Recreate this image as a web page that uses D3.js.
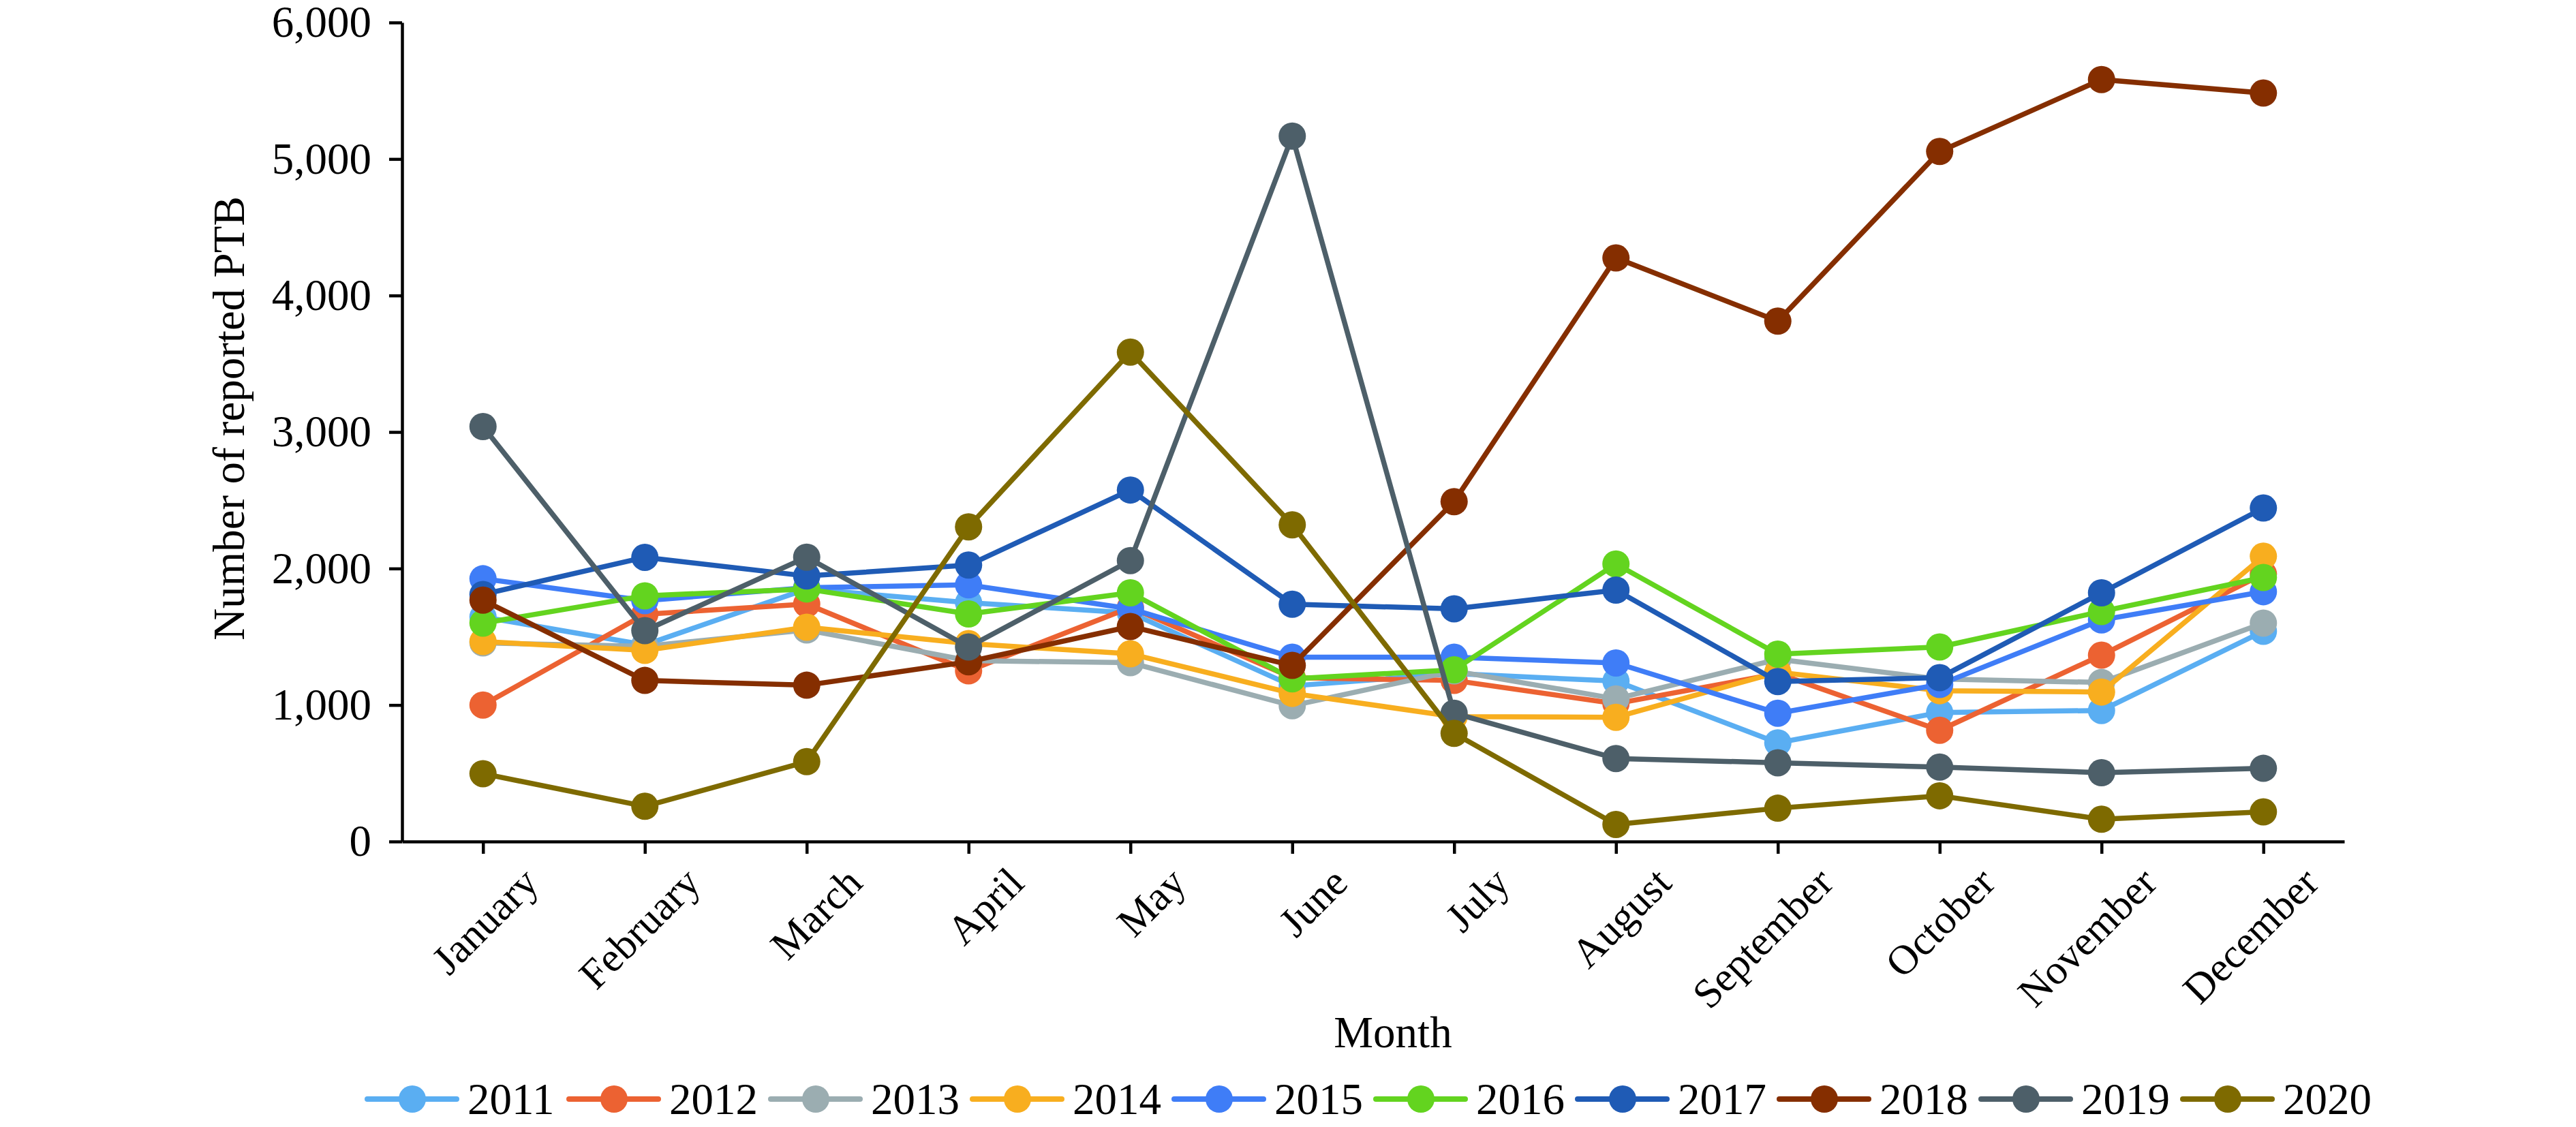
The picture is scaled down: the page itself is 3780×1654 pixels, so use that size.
<!DOCTYPE html>
<html>
<head>
<meta charset="utf-8">
<script src="https://cdn.jsdelivr.net/npm/d3@7"></script>
<style>
  html, body { margin: 0; padding: 0; background: #fff; }
  svg { display: block; }
  text { font-family: "Liberation Serif", "Times New Roman", serif; fill: #000; }
</style>
</head>
<body>
<svg id="chart" width="3780" height="1654"></svg>
<script>
// ---- Data ----
const months = ["January","February","March","April","May","June","July","August","September","October","November","December"];
const years = ["2011","2012","2013","2014","2015","2016","2017","2018","2019","2020"];
const yTicks = [0, 1000, 2000, 3000, 4000, 5000, 6000];

const s2011 = [1645, 1440, 1850, 1750, 1675, 1140, 1230, 1175, 723, 945, 960, 1540];
const s2012 = [1000, 1665, 1740, 1250, 1715, 1200, 1180, 1010, 1230, 815, 1365, 1960];
const s2013 = [1455, 1430, 1550, 1325, 1310, 995, 1250, 1045, 1335, 1190, 1165, 1600];
const s2014 = [1465, 1400, 1570, 1450, 1375, 1085, 915, 910, 1240, 1105, 1095, 2090];
const s2015 = [1925, 1765, 1860, 1880, 1705, 1350, 1350, 1308, 940, 1150, 1623, 1830];
const s2016 = [1600, 1800, 1850, 1667, 1822, 1192, 1258, 2033, 1373, 1425, 1685, 1934];
const s2017 = [1810, 2082, 1945, 2025, 2575, 1738, 1705, 1842, 1172, 1200, 1822, 2443];
const s2018 = [1768, 1180, 1145, 1317, 1575, 1290, 2490, 4275, 3812, 5055, 5582, 5483];
const s2019 = [3040, 1545, 2083, 1425, 2058, 5168, 940, 608, 577, 545, 504, 536];
const s2020 = [497, 258, 585, 2305, 3585, 2320, 792, 125, 244, 335, 163, 217];

const colors = ["#5AAEF2","#EC6232","#9BADB1","#F8AE1F","#3F7DF7","#63D41F","#1F5BB5","#852E00","#4D5F69","#7E6A00"];

const seriesValues = [s2011, s2012, s2013, s2014, s2015, s2016, s2017, s2018, s2019, s2020];
const series = years.map((yr, i) => ({ name: yr, color: colors[i], values: seriesValues[i] }));

// ---- Layout ----
const svg = d3.select("#chart");
const plotLeft = 590, plotRight = 3440, plotTop = 33, plotBottom = 1235;
const FS = 65;
const FSX = 61;

const x = d3.scalePoint().domain(months).range([plotLeft, plotRight]).padding(0.5);
const y = d3.scaleLinear().domain([0, 6000]).range([plotBottom, plotTop]);

// Axes
const yAxis = svg.append("g")
  .attr("transform", `translate(${plotLeft},0)`)
  .call(d3.axisLeft(y).tickValues(yTicks).tickFormat(d3.format(",")).tickSize(19).tickSizeOuter(0).tickPadding(26));
yAxis.selectAll("text").style("font-size", FS + "px").style("font-family", "'Liberation Serif', serif");

const xAxis = svg.append("g")
  .attr("transform", `translate(0,${plotBottom})`)
  .call(d3.axisBottom(x).tickSize(18).tickSizeOuter(0));
xAxis.selectAll("text")
  .style("font-size", FSX + "px").style("font-family", "'Liberation Serif', serif")
  .attr("x", 0).attr("y", 0).attr("dy", 0)
  .attr("text-anchor", "end")
  .attr("transform", "translate(84,64) rotate(-45)");

svg.selectAll(".domain, .tick line").attr("stroke", "#000").attr("stroke-width", 4.5);

// Axis titles
svg.append("text")
  .attr("transform", `translate(358,614) rotate(-90)`)
  .attr("text-anchor", "middle")
  .style("font-size", FS + "px")
  .text("Number of reported PTB");

svg.append("text")
  .attr("x", 2044).attr("y", 1537)
  .attr("text-anchor", "middle")
  .style("font-size", FS + "px")
  .text("Month");

// Series
const line = d3.line().x((d, i) => x(months[i])).y(d => y(d));
const groups = svg.append("g").selectAll("g").data(series).join("g");
groups.append("path")
  .attr("d", d => line(d.values))
  .attr("fill", "none")
  .attr("stroke", d => d.color)
  .attr("stroke-width", 7.5)
  .attr("stroke-linejoin", "round");
groups.each(function(s) {
  d3.select(this).selectAll("circle").data(s.values).join("circle")
    .attr("cx", (d, i) => x(months[i]))
    .attr("cy", d => y(d))
    .attr("r", 20)
    .attr("fill", s.color);
});

// Legend
const legX0 = 535, legStep = 296, legY = 1613;
const leg = svg.append("g").selectAll("g").data(series).join("g")
  .attr("transform", (d, i) => `translate(${legX0 + i * legStep},${legY})`);
leg.append("line")
  .attr("x1", 4).attr("x2", 135).attr("y1", 0).attr("y2", 0)
  .attr("stroke", d => d.color).attr("stroke-width", 8).attr("stroke-linecap", "round");
leg.append("circle").attr("cx", 70).attr("cy", 0).attr("r", 20).attr("fill", d => d.color);
leg.append("text")
  .attr("x", 151).attr("y", 22)
  .style("font-size", FS + "px")
  .text(d => d.name);
</script>
</body>
</html>
